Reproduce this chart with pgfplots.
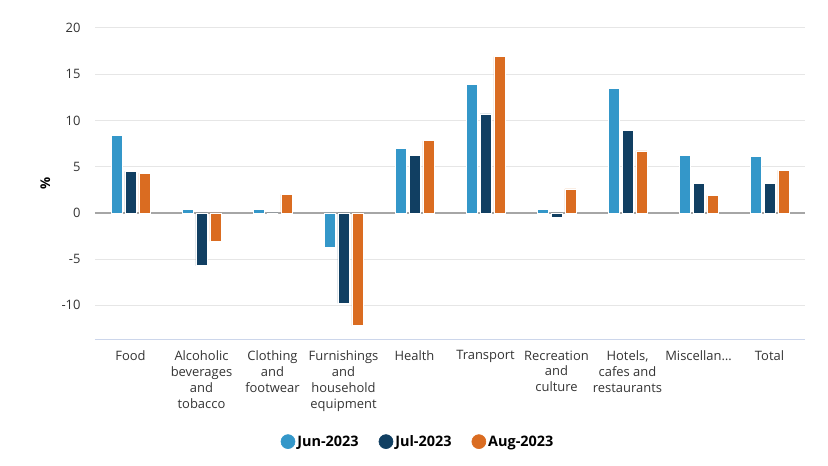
\documentclass[border=0pt]{standalone}
\usepackage{fontspec}
\setmainfont{Open Sans}
\usepackage{pgfplots}
\usepackage{pgfplotstable}
\pgfplotsset{compat=1.18}

\definecolor{cjun}{HTML}{3497C9}
\definecolor{cjul}{HTML}{113F62}
\definecolor{caug}{HTML}{DA6C21}
\definecolor{gridc}{HTML}{E6E6E6}
\definecolor{axisc}{HTML}{CCD6EB}
\definecolor{zeroc}{HTML}{A6A6A6}
\definecolor{labc}{HTML}{333333}

% annual change, %
\pgfplotstableread{
x jun jul aug
0 8.4 4.5 4.3
1 0.4 -5.7 -3.1
2 0.4 0.0 2.0
3 -3.7 -9.8 -12.2
4 7.0 6.2 7.8
5 13.9 10.7 16.9
6 0.4 -0.5 2.6
7 13.5 8.9 6.7
8 6.2 3.2 1.9
9 6.1 3.2 4.6
}\data

\begin{document}
\begin{tikzpicture}
\path[use as bounding box] (-95bp,-127bp) rectangle (733bp,339bp);
\begin{axis}[
    at={(0,0)}, anchor=south west,
    scale only axis,
    width=710bp, height=311bp,
    xmin=-0.5, xmax=9.5,
    ymin=-13.65, ymax=20,
    axis x line*=bottom,
    axis y line*=left,
    x axis line style={axisc, line width=1bp, -},
    y axis line style={draw=none},
    ymajorgrids,
    grid style={gridc, line width=1bp},
    major tick length=0pt,
    ytick={-10,-5,0,5,10,15,20},
    yticklabels={-10,-5,0,5,10,15,20},
    yticklabel style={font=\fontsize{13}{15}\selectfont, text=labc, xshift=-11bp},
    xtick={0,...,9},
    xticklabels={Food, {Alcoholic\\beverages\\and\\tobacco}, {Clothing\\and\\footwear},
      {Furnishings\\and\\household\\equipment}, Health, Transport, {Recreation\\and\\culture},
      {Hotels,\\cafes and\\restaurants}, Miscellan…, Total},
    xticklabel style={font=\fontsize{13}{16}\selectfont, text=labc, align=center, anchor=north, yshift=-8bp},
    ylabel={\textbf{\%}},
    ylabel style={at={(axis description cs:-0.07,0.5)}, anchor=center, font=\fontsize{13.5}{15}\selectfont},
    legend style={at={(0.455,-0.33)}, anchor=center, draw=none, fill=none,
      legend columns=3, font=\fontsize{14.5}{17}\selectfont\bfseries,
      /tikz/every even column/.append style={column sep=18bp}},
    legend cell align=left,
]
\addplot[zeroc, line width=1.6bp, forget plot] coordinates {(-0.5,0) (9.5,0)};
\addplot[ybar, bar width=0.155, bar shift=-0.197, fill=cjun, draw=white, line width=0.6bp,
  legend image code/.code={\fill[cjun] (0.1cm,0cm) circle (7bp);}]
  table[x=x, y=jun] {\data};
\addlegendentry{Jun-2023}
\addplot[ybar, bar width=0.155, bar shift=0, fill=cjul, draw=white, line width=0.6bp,
  legend image code/.code={\fill[cjul] (0.1cm,0cm) circle (7bp);}]
  table[x=x, y=jul] {\data};
\addlegendentry{Jul-2023}
\addplot[ybar, bar width=0.155, bar shift=0.197, fill=caug, draw=white, line width=0.6bp,
  legend image code/.code={\fill[caug] (0.1cm,0cm) circle (7bp);}]
  table[x=x, y=aug] {\data};
\addlegendentry{Aug-2023}
\end{axis}
\end{tikzpicture}
\end{document}
